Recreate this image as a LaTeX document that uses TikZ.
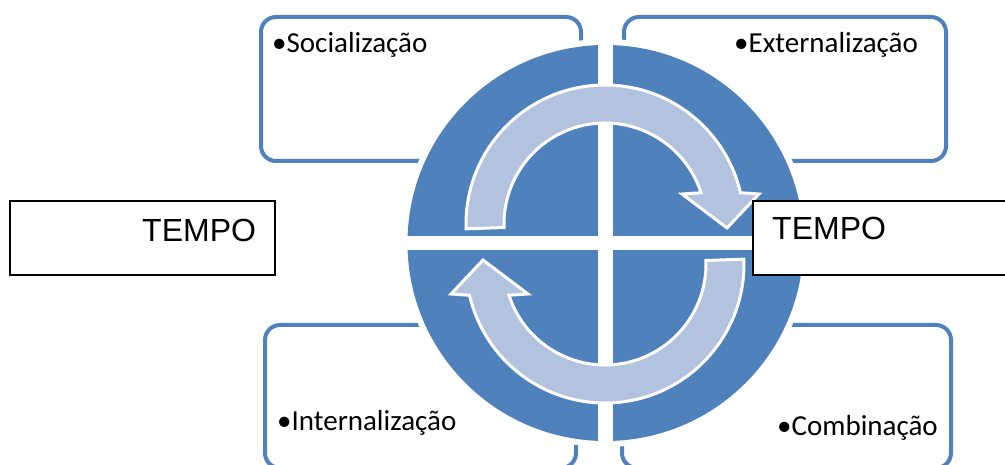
\documentclass[tikz,border=0pt]{standalone}
\usepackage{fontspec}
\usetikzlibrary{calc}
\newfontfamily\stagefont{Carlito}
\newfontfamily\timefont{Liberation Sans}

\begin{document}
\begin{tikzpicture}[x=1pt, y=1pt,
    stagebox/.style={draw=ringblue, line width=4, rounded corners=15},
    stagetext/.style={inner sep=0pt, font=\stagefont\fontsize{29}{34}\selectfont},
    timebox/.style={draw=black, fill=white, line width=2},
    timetext/.style={inner sep=0pt, font=\timefont\fontsize{32}{38}\selectfont},
    cyclearrow/.style={fill=arrowblue, draw=white, line width=3, line join=miter}]

% Define colors
\definecolor{ringblue}{HTML}{4F81BD}
\definecolor{arrowblue}{HTML}{B3C3DF}

% Define the sizes
\def\ringrad{198}
\def\outerrad{139}
\def\innerrad{101}

\path[use as bounding box, clip] (0,0) rectangle (1005,464);

% The four stage boxes behind the ring
\draw[stagebox] (261,447) rectangle (581,303);
\draw[stagebox] (624,447) rectangle (946,303);
\draw[stagebox] (265,139) rectangle (576,-4);
\draw[stagebox] (622,139) rectangle (951,-4);

\node[stagetext, anchor=base west] (soc) at (272,411) {•Socialização};
\node[stagetext, anchor=base west] (ext) at (734,411) {•Externalização};
\node[stagetext, anchor=base west] (int) at (277,34) {•Internalização};
\node[stagetext, anchor=base west] (comb) at (777,29) {•Combinação};

% Ring split into four quarters
\coordinate (mid) at (605.5,221);
\fill[white] (mid) circle[radius=\ringrad+6];
\fill[ringblue] (mid) circle[radius=\ringrad];
\draw[white, line width=15] ($(mid)+(0,-\ringrad-8)$) -- ($(mid)+(0,\ringrad+8)$);
\draw[white, line width=14] ($(mid)+(-\ringrad-8,0)$) -- ($(mid)+(\ringrad+8,0)$);

% Two circular arrows, the second one turned round
\foreach \rot in {0,180} {
    \draw[cyclearrow, rotate around={\rot:(605,220)}, shift={(605,240)}]
        (182:\outerrad) arc[start angle=182, end angle=13, radius=\outerrad]
        -- (154,30) -- (122,-4) -- (77,30)
        -- (18:\innerrad) arc[start angle=18, end angle=182, radius=\innerrad]
        -- cycle;
}

% Time boxes on top
\draw[timebox] (10,263) rectangle (275,189);
\node[timetext, anchor=base west] (tleft) at (142,222) {TEMPO};
\draw[timebox] (753,263) rectangle (1012,189);
\node[timetext, anchor=base west] (tright) at (772,224) {TEMPO};

\end{tikzpicture}
\end{document}
